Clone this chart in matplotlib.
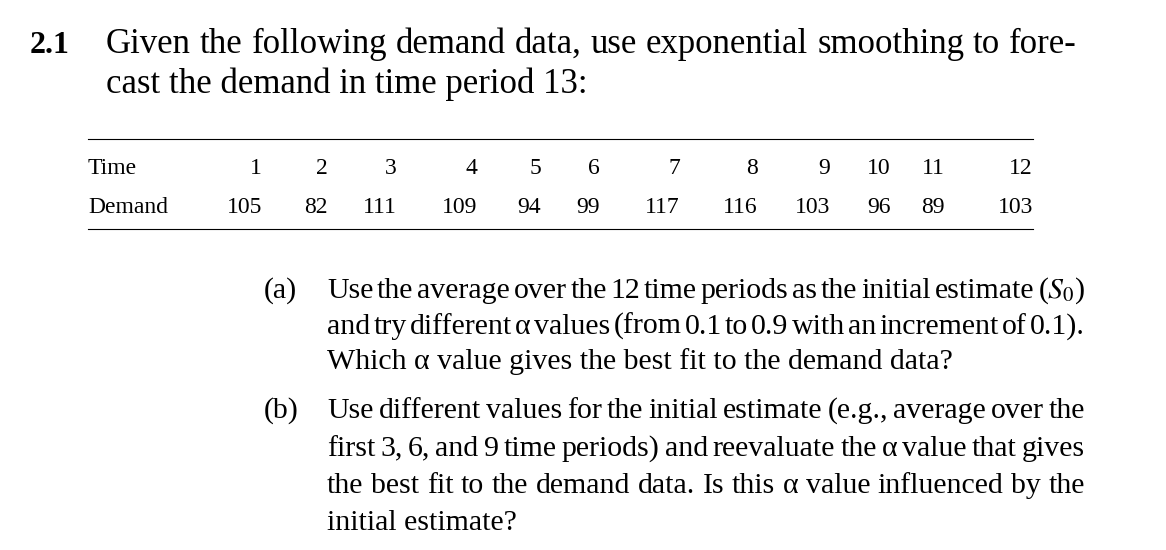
import matplotlib
matplotlib.use("Agg")
import matplotlib.pyplot as plt

plt.rcParams['font.family'] = ['Liberation Serif', 'DejaVu Serif']
plt.rcParams['mathtext.fontset'] = 'stix'

times = [1, 2, 3, 4, 5, 6, 7, 8, 9, 10, 11, 12]
demand = [105, 82, 111, 109, 94, 99, 117, 116, 103, 96, 89, 103]
col_right = [262, 328, 397, 477, 541, 600, 680, 758, 830, 891, 945, 1033]

header = ["Given the following demand data, use exponential smoothing to fore-",
          "cast the demand in time period 13:"]
part_a = ["Use the average over the 12 time periods as the initial estimate ($S_0$)",
          "and try different α values (from 0.1 to 0.9 with an increment of 0.1).",
          "Which α value gives the best fit to the demand data?"]
part_b = ["Use different values for the initial estimate (e.g., average over the",
          "first 3, 6, and 9 time periods) and reevaluate the α value that gives",
          "the best fit to the demand data. Is this α value influenced by the",
          "initial estimate?"]

W, H = 1166, 550
fig = plt.figure(figsize=(W / 100, H / 100), dpi=100)
fig.patch.set_facecolor('white')
ax = fig.add_axes([0, 0, 1, 1])
ax.set_xlim(0, W)
ax.set_ylim(H, 0)
ax.axis('off')
renderer = fig.canvas.get_renderer()


def justified(lines, x0, x1, y0, dy, size):
    for i, line in enumerate(lines):
        y = y0 + i * dy
        words = line.split(' ')
        if i == len(lines) - 1 or len(words) < 2:
            ax.text(x0, y, line, fontsize=size, va='baseline')
            continue
        arts = [ax.text(0, y, w, fontsize=size, va='baseline') for w in words]
        widths = [a.get_window_extent(renderer).width for a in arts]
        gap = (x1 - x0 - sum(widths)) / (len(words) - 1)
        x = x0
        for a, w in zip(arts, widths):
            a.set_x(x)
            x += w + gap


ax.text(30, 53, "2.1", fontsize=23, fontweight='bold', va='baseline')
justified(header, 106, 1077, 53, 40, 25)

# table
ax.plot([88, 1033], [139, 139], color='black', lw=0.8)
ax.plot([88, 1033], [229, 229], color='black', lw=0.8)
ax.text(88, 174, "Time", fontsize=17, va='baseline')
ax.text(88, 213, "Demand", fontsize=17, va='baseline')
for t, d, xr in zip(times, demand, col_right):
    ax.text(xr, 174, str(t), fontsize=17, va='baseline', ha='right')
    ax.text(xr, 213, str(d), fontsize=17, va='baseline', ha='right')

ax.text(264, 298, "(a)", fontsize=21.5, va='baseline')
justified(part_a, 327, 1085, 298, 35.5, 21.5)
ax.text(264, 418, "(b)", fontsize=21.5, va='baseline')
justified(part_b, 327, 1085, 418, 37.5, 21.5)

fig.savefig("out.png", dpi=100)
